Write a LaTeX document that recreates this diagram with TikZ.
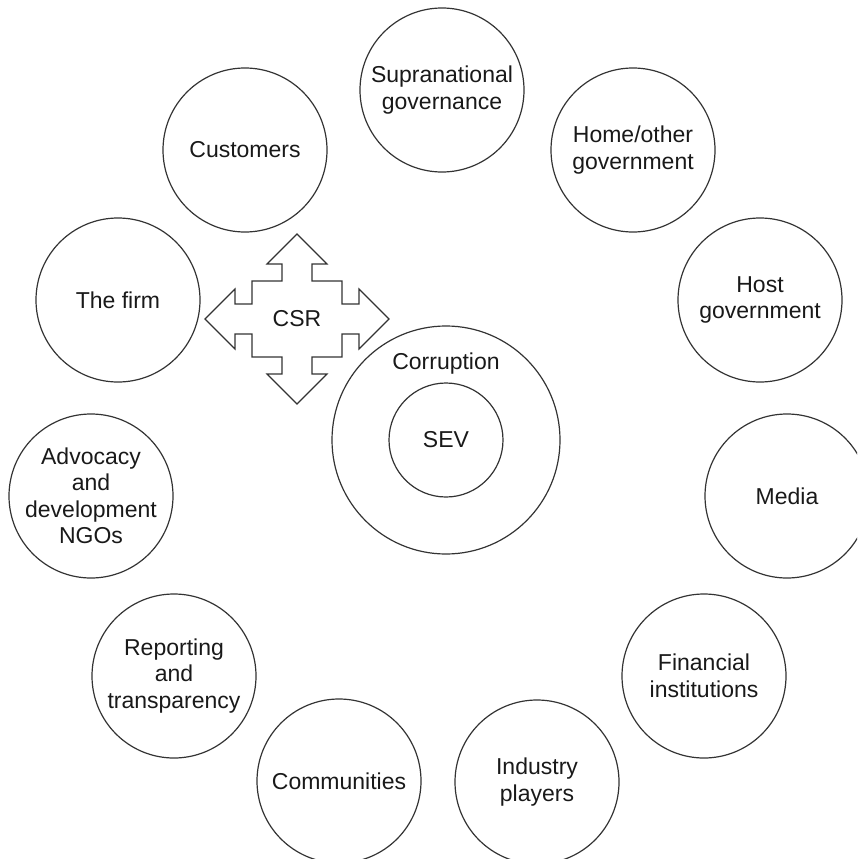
\documentclass[tikz,border=0pt]{standalone}
\usepackage{fontspec}
\setmainfont{Liberation Sans}
\usetikzlibrary{positioning}

\tikzstyle{trait}=[draw=black!80,line width=1.2pt]
\tikzstyle{texte}=[font=\fontsize{23}{26.5}\selectfont,text=black!90]
\tikzstyle{acteur}=[trait,texte,circle,minimum size=164pt,inner sep=0pt,align=center]

\begin{document}
\begin{tikzpicture}[x=1pt,y=-1pt]
\useasboundingbox (0,0) rectangle (857,859);
\clip (0,0) rectangle (857,859);
% acteurs autour
\node[acteur] (supra) at (442,90) {Supranational\\governance};
\node[acteur] (home) at (633,150) {Home/other\\government};
\node[acteur] (host) at (760,300) {Host\\government};
\node[acteur] (media) at (787,496) {Media};
\node[acteur] (fin) at (704,676) {Financial\\institutions};
\node[acteur] (ind) at (537,782) {Industry\\players};
\node[acteur] (comm) at (339,781) {Communities};
\node[acteur] (report) at (174,676) {Reporting\\and\\transparency};
\node[acteur] (ngo) at (91,496) {Advocacy\\and\\development\\NGOs};
\node[acteur] (firm) at (118,300) {The firm};
\node[acteur] (cust) at (245,150) {Customers};
% centre
\node[acteur,minimum size=228pt] (corr) at (446,440) {};
\node[acteur,minimum size=114pt] (sev) at (446,440) {SEV};
\node[texte,below=24pt of corr.north] (corrtxt) {Corruption};
% croix CSR
\begin{scope}[shift={(297,319)}]
\draw[trait] (0,-85) -- (30,-55) -- (15,-55) -- (15,-38) -- (45,-38) -- (45,-15)
  -- (62,-15) -- (62,-30) -- (92,0) -- (62,30) -- (62,15) -- (45,15) -- (45,38)
  -- (15,38) -- (15,55) -- (30,55) -- (0,85) -- (-30,55) -- (-15,55) -- (-15,38)
  -- (-45,38) -- (-45,15) -- (-62,15) -- (-62,30) -- (-92,0) -- (-62,-30)
  -- (-62,-15) -- (-45,-15) -- (-45,-38) -- (-15,-38) -- (-15,-55) -- (-30,-55) -- cycle;
\node[texte] (csr) at (0,0) {CSR};
\end{scope}
\end{tikzpicture}
\end{document}
